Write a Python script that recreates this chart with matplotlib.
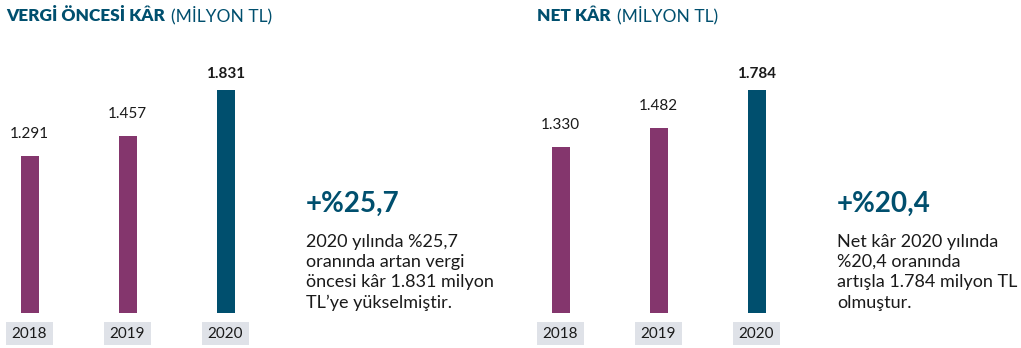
import matplotlib
matplotlib.use("Agg")
import matplotlib.pyplot as plt
from matplotlib.patches import Rectangle
import matplotlib.transforms as mtransforms

plt.rcParams['font.family'] = ['Lato', 'DejaVu Sans']

# data
years = ['2018', '2019', '2020']
pretax_profit = [1291, 1457, 1831]
net_profit = [1330, 1482, 1784]
pretax_labels = ['1.291', '1.457', '1.831']
net_labels = ['1.330', '1.482', '1.784']

pretax_title = ['VERGİ ÖNCESİ KÂR', '(MİLYON TL)']
net_title = ['NET KÂR', '(MİLYON TL)']
pretax_growth = '+%25,7'
net_growth = '+%20,4'
pretax_note = ['2020 yılında %25,7', 'oranında artan vergi',
               'öncesi kâr 1.831 milyon', 'TL’ye yükselmiştir.']
net_note = ['Net kâr 2020 yılında', '%20,4 oranında',
            'artışla 1.784 milyon TL', 'olmuştur.']

PURPLE = '#84366d'
TEAL = '#004f6e'
BOX = '#dfe2e8'
TEXT = '#1a1a1a'

W, H = 1021, 348
fig = plt.figure(figsize=(W / 100, H / 100), dpi=100)


def fx(px):
    return px / W


def fy(py):
    return 1 - py / H


# pixel layout of a panel
BASE_Y = 313.3
TOP_Y = 50.0
SPACING = 98.0
BAR_PX = 18.0
MAX_BAR_PX = 223.0


def draw_panel(x0, x_first, values, labels, title, title_x, growth, note, text_x):
    x1 = x0 + 260
    ax = fig.add_axes([fx(x0), fy(BASE_Y), fx(x1 - x0), (BASE_Y - TOP_Y) / H])
    ax_h = BASE_Y - TOP_Y
    ax.set_xlim((x0 - x_first) / SPACING, (x1 - x_first) / SPACING)
    ax.set_ylim(0, max(values) * ax_h / MAX_BAR_PX)
    ax.axis('off')

    xs = list(range(len(values)))
    colors = [PURPLE] * (len(values) - 1) + [TEAL]
    ax.bar(xs, values, width=BAR_PX / SPACING, color=colors)

    for i, (v, lab) in enumerate(zip(values, labels)):
        last = i == len(values) - 1
        ax.annotate(lab, (i, v), xytext=(0, 9 if last else 13),
                    textcoords='offset points', ha='center', va='baseline',
                    fontsize=11, color=TEXT,
                    fontweight='bold' if last else 'normal')

    # year boxes below the bars
    trans = mtransforms.blended_transform_factory(ax.transData, ax.transAxes)
    box_w = 47 / SPACING
    y_lo = (BASE_Y - 345) / ax_h
    y_hi = (BASE_Y - 322) / ax_h
    for i, yr in enumerate(years):
        ax.add_patch(Rectangle((i - box_w / 2, y_lo), box_w, y_hi - y_lo,
                               transform=trans, facecolor=BOX, edgecolor='none',
                               clip_on=False))
        ax.text(i, (y_lo + y_hi) / 2, yr, transform=trans, ha='center',
                va='center', fontsize=11, color=TEXT)

    # title: bold part followed by regular part
    t1 = fig.text(fx(title_x), fy(21), title[0], fontsize=12.4,
                  fontweight='heavy', color=TEAL, va='baseline')
    fig.canvas.draw()
    bb = t1.get_window_extent()
    fig.text(fx(bb.x1 + 6), fy(21), title[1], fontsize=12.5, color=TEAL,
             va='baseline')

    fig.text(fx(text_x), fy(212), growth, fontsize=20, fontweight='bold',
             color=TEAL, va='baseline')
    for k, line in enumerate(note):
        fig.text(fx(text_x), fy(246.5 + 20.5 * k), line, fontsize=13,
                 color=TEXT, va='baseline')
    return ax


# left panel starts at the figure edge, right panel at pixel 531
draw_panel(0, 29.5, pretax_profit, pretax_labels, pretax_title, 6,
           pretax_growth, pretax_note, 306)
draw_panel(531, 560.5, net_profit, net_labels, net_title, 537,
           net_growth, net_note, 837)

fig.savefig('out.png', dpi=100)
